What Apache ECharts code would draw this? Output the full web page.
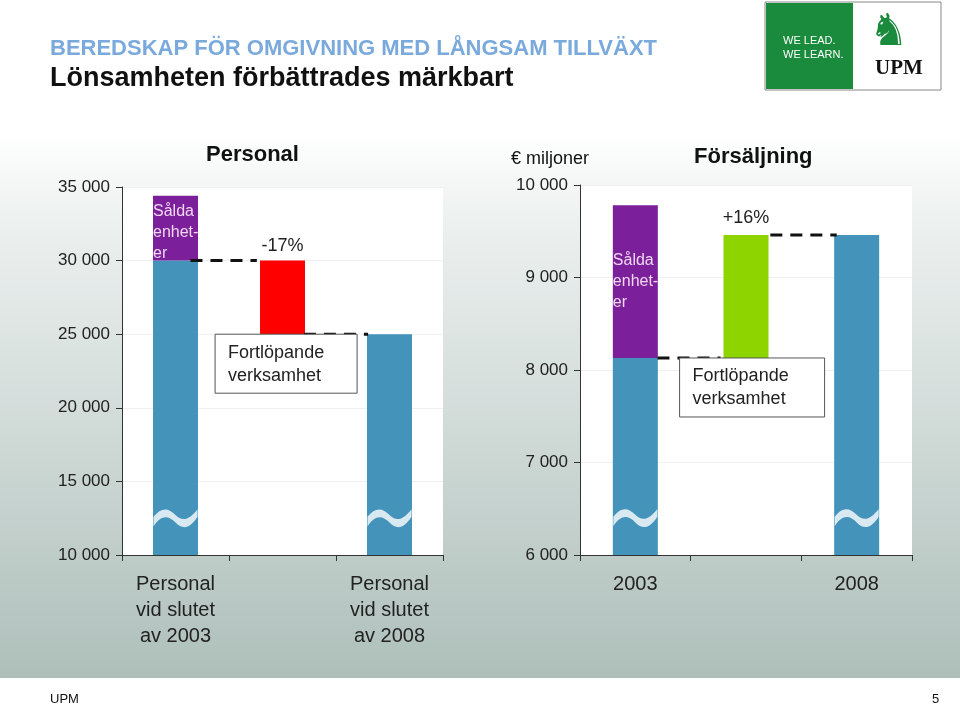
<!DOCTYPE html>
<html>
<head>
<meta charset="utf-8">
<script src="https://cdn.jsdelivr.net/npm/echarts@6/dist/echarts.min.js"></script>
<style>
  body { margin: 0; background: #fff; }
  #chart { width: 960px; height: 706px; }
</style>
</head>
<body>
<div id="chart"></div>
<script>
// Personal (vänster)
let persCats = ['Personal\nvid slutet\nav 2003', '', 'Personal\nvid slutet\nav 2008']
let persBase = [0, 25000, 0]
let persCont = [30000, 0, 25000]
let persDrop = [0, 5000, 0]
let persSold = [4400, 0, 0]

// Försäljning (höger)
let salesCats = ['2003', '', '2008']
let salesBase = [0, 8130, 0]
let salesCont = [8130, 0, 9460]
let salesGrow = [0, 1330, 0]
let salesSold = [1650, 0, 0]

let font = 'Arial, "Liberation Sans", sans-serif'
let chart = echarts.init(document.getElementById('chart'))

function yAxis(idx, min, max, interval) {
    return {
        gridIndex: idx, min: min, max: max, interval: interval,
        axisLine: {show: true, lineStyle: {color: '#333'}},
        axisTick: {show: true, length: 6, lineStyle: {color: '#333'}},
        splitLine: {lineStyle: {color: '#f0f0f0'}},
        axisLabel: {
            color: '#222', fontSize: 17, fontFamily: font, margin: 12,
            formatter: v => String(v).replace(/\B(?=(\d{3})+(?!\d))/g, ' ')
        }
    }
}

function xAxis(idx, cats) {
    return {
        type: 'category', gridIndex: idx, data: cats,
        axisLine: {lineStyle: {color: '#333'}},
        axisTick: {show: true, length: 6, lineStyle: {color: '#333'}},
        axisLabel: {color: '#222', fontSize: 20, fontFamily: font, lineHeight: 26, margin: 16}
    }
}

function bar(idx, data, color, extra) {
    return Object.assign({
        type: 'bar', xAxisIndex: idx, yAxisIndex: idx, stack: 's' + idx,
        data: data, barWidth: 45, itemStyle: {color: color}, silent: true
    }, extra || {})
}

let soldLabel = {
    show: true, position: 'insideTopLeft', offset: [-5, 0],
    color: '#f0d8f0', fontSize: 16, fontFamily: font, lineHeight: 21,
    formatter: p => p.value ? 'Sålda\nenhet-\ner' : ''
}

let breakSymbol = 'path://M0,10 C10,0 20,0 30,8 C40,16 50,12 60,2 L60,10 C50,22 40,24 30,16 C20,8 10,8 0,20 Z'

chart.setOption({
    animation: false,
    backgroundColor: {
        type: 'linear', x: 0, y: 0, x2: 0, y2: 1,
        colorStops: [
            {offset: 0, color: '#ffffff'},
            {offset: 0.19, color: '#ffffff'},
            {offset: 0.3, color: '#eef2f1'},
            {offset: 0.96, color: '#aebfba'},
            {offset: 0.961, color: '#ffffff'},
            {offset: 1, color: '#ffffff'}
        ]
    },
    grid: [
        {left: 122, top: 187, width: 321, height: 368, show: true, backgroundColor: '#fff', borderWidth: 0},
        {left: 580, top: 185, width: 332, height: 370, show: true, backgroundColor: '#fff', borderWidth: 0}
    ],
    xAxis: [xAxis(0, persCats), xAxis(1, salesCats)],
    yAxis: [yAxis(0, 10000, 35000, 5000), yAxis(1, 6000, 10000, 1000)],
    series: [
        bar(0, persBase, 'transparent'),
        bar(0, persCont, '#4393bb'),
        bar(0, persDrop, '#ff0000', {label: {show: true, position: 'top', distance: 6, formatter: p => p.value ? '-17%' : '', color: '#222', fontSize: 18, fontFamily: font}}),
        bar(0, persSold, '#7b1f9b', {label: soldLabel}),
        bar(1, salesBase, 'transparent'),
        bar(1, salesCont, '#4393bb'),
        bar(1, salesGrow, '#8ed400', {label: {show: true, position: 'top', distance: 8, formatter: p => p.value ? '+16%' : '', color: '#222', fontSize: 18, fontFamily: font}}),
        bar(1, salesSold, '#7b1f9b', {label: Object.assign({}, soldLabel, {position: 'insideLeft'})}),
        // brytmarkering
        {
            type: 'scatter', xAxisIndex: 0, yAxisIndex: 0, silent: true,
            data: [[0, 12500], [2, 12500]],
            symbol: breakSymbol, symbolSize: [44, 18], itemStyle: {color: '#fff'}
        },
        {
            type: 'scatter', xAxisIndex: 1, yAxisIndex: 1, silent: true,
            data: [[0, 6400], [2, 6400]],
            symbol: breakSymbol, symbolSize: [44, 18], itemStyle: {color: '#fff'}
        }
    ]
})

// streckade linjer och textrutor placeras via axlarna (bråkdelar av kategoriavstånd)
function px(gi, x, y) {
    let a = chart.convertToPixel({gridIndex: gi}, [0, y])
    let b = chart.convertToPixel({gridIndex: gi}, [1, y])
    return [a[0] + (b[0] - a[0]) * x, a[1]]
}
function dash(gi, x0, x1, v) {
    let a = px(gi, x0, v), b = px(gi, x1, v)
    return {type: 'line', shape: {x1: a[0], y1: a[1], x2: b[0], y2: b[1]},
        style: {stroke: '#111', lineWidth: 3, lineDash: [12, 8]}, z: 100}
}
function box(gi, x, v, w) {
    let p = px(gi, x, v)
    return {type: 'group', x: p[0], y: p[1], z: 100, children: [
        {type: 'rect', z: 100, shape: {x: 0, y: 0, width: w, height: 59}, style: {fill: '#fff', stroke: '#555', lineWidth: 1}},
        {type: 'text', z: 101, x: 13, y: 7, style: {text: 'Fortlöpande\nverksamhet', fill: '#222', fontSize: 18, fontFamily: font, lineHeight: 23}}
    ]}
}

let logoX = 765
chart.setOption({
    graphic: [
        {type: 'text', left: 50, top: 38, style: {text: 'BEREDSKAP FÖR OMGIVNING MED LÅNGSAM TILLVÄXT', fill: '#7aa9dc', fontSize: 22, fontWeight: 'bold', fontFamily: font}},
        {type: 'text', left: 50, top: 65, style: {text: 'Lönsamheten förbättrades märkbart', fill: '#111', fontSize: 27, fontWeight: 'bold', fontFamily: font}},
        {type: 'rect', shape: {x: logoX, y: 2, width: 176, height: 88}, style: {fill: '#fff', stroke: '#888', lineWidth: 1}},
        {type: 'rect', shape: {x: logoX + 1, y: 3, width: 87, height: 86}, style: {fill: '#1a8a3c'}},
        {type: 'text', x: logoX + 18, y: 34, style: {text: 'WE LEAD.\nWE LEARN.', fill: '#fff', fontSize: 11, lineHeight: 14, fontFamily: font}},
        {type: 'text', x: logoX + 104, y: 12, style: {text: '♞', fill: '#1a8a3c', fontSize: 44, fontFamily: 'DejaVu Sans'}},
        {type: 'text', x: logoX + 110, y: 58, style: {text: 'UPM', fill: '#111', fontSize: 21, fontWeight: 'bold', fontFamily: '"Liberation Serif", serif'}},
        {type: 'text', left: 206, top: 144, style: {text: 'Personal', fill: '#111', fontSize: 22, fontWeight: 'bold', fontFamily: font}},
        {type: 'text', left: 694, top: 146, style: {text: 'Försäljning', fill: '#111', fontSize: 22, fontWeight: 'bold', fontFamily: font}},
        {type: 'text', left: 511, top: 150, style: {text: '€ miljoner', fill: '#111', fontSize: 18, fontFamily: font}},
        {type: 'text', left: 50, top: 693, style: {text: 'UPM', fill: '#111', fontSize: 13, fontFamily: font}},
        {type: 'text', left: 932, top: 693, style: {text: '5', fill: '#111', fontSize: 13, fontFamily: font}},
        dash(0, 0.14, 0.76, 30000),
        dash(0, 1.2, 1.8, 25000),
        dash(1, 0.2, 0.77, 8130),
        dash(1, 1.22, 1.82, 9460),
        box(0, 0.37, 25000, 142),
        box(1, 0.4, 8130, 145)
    ]
})
</script>
</body>
</html>
